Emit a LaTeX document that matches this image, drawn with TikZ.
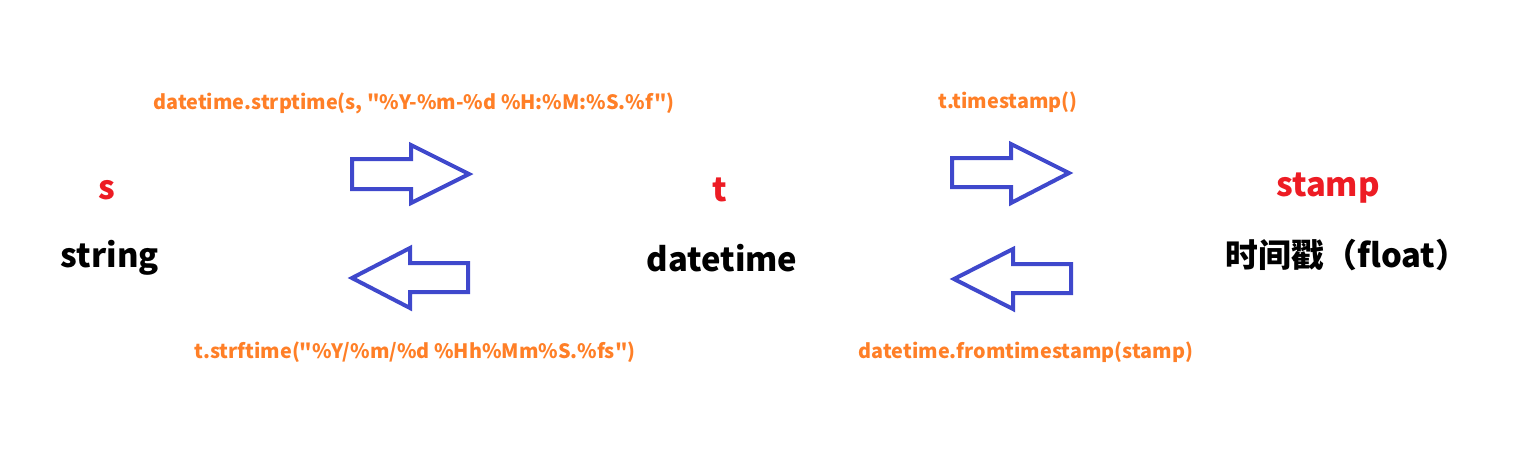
\documentclass[tikz,border=0pt]{standalone}
\usepackage{fontspec}
\setmainfont{Noto Sans CJK SC}[Ligatures=TeXOff]
\definecolor{paintorange}{HTML}{FF7F27}
\definecolor{paintred}{HTML}{ED1C24}
\definecolor{paintblue}{HTML}{3F48CC}
\begin{document}
\begin{tikzpicture}[x=0.5pt, y=-0.5pt,
            font=\bfseries,
            blockarrow/.style={draw=paintblue, line width=2pt, line join=miter},
            var/.style={color=paintred, font=\fontsize{16.4}{20}\bfseries\selectfont},
            kind/.style={color=black, font=\fontsize{16.4}{20}\bfseries\selectfont},
            call/.style={color=paintorange, font=\fontsize{9.9}{12}\bfseries\selectfont}
        ]
            \useasboundingbox (0,0) rectangle (1525,473);

            % the three values
            \node[var]  (s)     at (107,190)  {s};
            \node[kind] (str)   at (110,258)  {string};
            \node[var]  (t)     at (720,190)  {t};
            \node[kind] (dt)    at (722,258)  {datetime};
            \node[var]  (stamp) at (1328,188) {stamp};
            \node[kind] (flt)   at (1347,255) {时间戳（float）};

            % conversions
            \node[call] (parse)   at (414,103)  {datetime.strptime(s, "\%Y-\%m-\%d \%H:\%M:\%S.\%f")};
            \node[call] (format)  at (415,352)  {t.strftime("\%Y/\%m/\%d \%Hh\%Mm\%S.\%fs")};
            \node[call] (tostamp) at (1008,102) {t.timestamp()};
            \node[call] (fromts)  at (1026,352) {datetime.fromtimestamp(stamp)};

            % block arrows
            \draw[blockarrow] (352,159) -- (411,159) -- (411,145) -- (469,174)
                -- (411,203) -- (411,189) -- (352,189) -- cycle;
            \draw[blockarrow] (468,263) -- (410,263) -- (410,248) -- (352,278)
                -- (410,308) -- (410,292) -- (468,292) -- cycle;

            \draw[blockarrow] (952,158) -- (1011,158) -- (1011,144) -- (1069,173)
                -- (1011,203) -- (1011,187) -- (952,187) -- cycle;
            \draw[blockarrow] (1071,264) -- (1013,264) -- (1013,249) -- (954,279)
                -- (1013,309) -- (1013,293) -- (1071,293) -- cycle;
        \end{tikzpicture}
\end{document}
